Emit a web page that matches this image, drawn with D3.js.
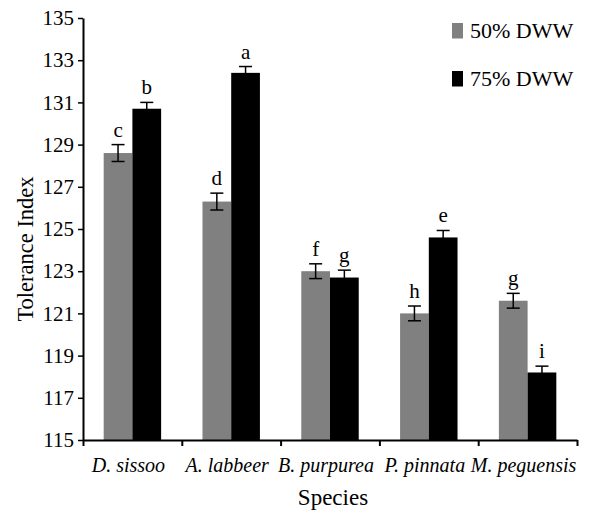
<!DOCTYPE html>
<html>
<head>
<meta charset="utf-8">
<script src="https://cdn.jsdelivr.net/npm/d3@7"></script>
<style>
  body { margin: 0; background: #fff; }
</style>
</head>
<body>
<div id="chart"></div>
<script>
// Tolerance index per species, two wastewater levels
const species = ['D. sissoo', 'A. labbeer', 'B. purpurea', 'P. pinnata', 'M. peguensis'];
const seriesNames = ['50% DWW', '75% DWW'];
const values50 = [128.6, 126.3, 123.0, 121.0, 121.6];
const values75 = [130.7, 132.4, 122.7, 124.6, 118.2];
const err50 = [0.4, 0.4, 0.35, 0.35, 0.35];
const err75 = [0.3, 0.3, 0.35, 0.33, 0.3];
const letters50 = ['c', 'd', 'f', 'h', 'g'];
const letters75 = ['b', 'a', 'g', 'e', 'i'];
const yTicks = [115, 117, 119, 121, 123, 125, 127, 129, 131, 133, 135];

const colors = { '50% DWW': '#808080', '75% DWW': '#000000' };
const serif = 'Liberation Serif';

const W = 591, H = 520;
const margin = { top: 18, right: 14, bottom: 80, left: 83 };
const width = W - margin.left - margin.right;
const height = H - margin.top - margin.bottom;

const svg = d3.select('#chart').append('svg')
  .attr('width', W)
  .attr('height', H)
  .attr('font-family', serif);

const g = svg.append('g')
  .attr('transform', `translate(${margin.left},${margin.top})`);

// rows: one per bar
const rows = [];
species.forEach((s, i) => {
  rows.push({ species: s, series: seriesNames[0], value: values50[i], err: err50[i], letter: letters50[i] });
  rows.push({ species: s, series: seriesNames[1], value: values75[i], err: err75[i], letter: letters75[i] });
});

// Scales
const x = d3.scaleBand().domain(species).range([0, width]).padding(0);
const xSub = d3.scaleBand().domain(seriesNames).range([0, x.bandwidth()])
  .paddingInner(0).paddingOuter(0.72);
const y = d3.scaleLinear().domain([115, 135]).range([height, 0]);

// Bars
g.selectAll('.bar')
  .data(rows)
  .enter().append('rect')
  .attr('class', 'bar')
  .attr('x', d => x(d.species) + xSub(d.series))
  .attr('y', d => y(d.value))
  .attr('width', xSub.bandwidth())
  .attr('height', d => y(115) - y(d.value))
  .style('fill', d => colors[d.series]);

// Error bars
const capW = 6.5;
const eb = g.selectAll('.err')
  .data(rows)
  .enter().append('g')
  .attr('class', 'err')
  .attr('transform', d => `translate(${x(d.species) + xSub(d.series) + xSub.bandwidth() / 2},0)`)
  .style('stroke', '#000')
  .style('stroke-width', 1.5);

eb.append('line')
  .attr('y1', d => y(d.value - d.err))
  .attr('y2', d => y(d.value + d.err));
eb.append('line')
  .attr('x1', -capW).attr('x2', capW)
  .attr('y1', d => y(d.value + d.err))
  .attr('y2', d => y(d.value + d.err));
eb.append('line')
  .attr('x1', -capW).attr('x2', capW)
  .attr('y1', d => y(d.value - d.err))
  .attr('y2', d => y(d.value - d.err));

// Significance letters
g.selectAll('.letter')
  .data(rows)
  .enter().append('text')
  .attr('class', 'letter')
  .attr('x', d => x(d.species) + xSub(d.series) + xSub.bandwidth() / 2)
  .attr('y', d => y(d.value + d.err) - 8)
  .attr('text-anchor', 'middle')
  .attr('font-family', serif)
  .attr('font-size', 21)
  .text(d => d.letter);

// Y axis
const yAxis = d3.axisLeft(y)
  .tickValues(yTicks)
  .tickFormat(d3.format('d'))
  .tickSize(5)
  .tickSizeOuter(0)
  .tickPadding(4);

const yAxisGroup = g.append('g').call(yAxis)
  .attr('font-family', serif)
  .attr('font-size', 21);
yAxisGroup.select('.domain').style('stroke-width', 2);
yAxisGroup.selectAll('.tick line').style('stroke-width', 1.5);

// X axis: boundary ticks
const xEdges = d3.scaleLinear().domain([0, species.length]).range([0, width]);
const xTickAxis = d3.axisBottom(xEdges)
  .tickValues(d3.range(0, species.length + 1))
  .tickFormat('')
  .tickSize(6)
  .tickSizeOuter(0);
const xTickGroup = g.append('g')
  .attr('transform', `translate(0,${height})`)
  .call(xTickAxis);
xTickGroup.select('.domain').style('stroke-width', 2);
xTickGroup.selectAll('.tick line').style('stroke-width', 2);

// X axis: species labels
const xAxis = d3.axisBottom(x).tickSize(0).tickPadding(0);
const xAxisGroup = g.append('g')
  .attr('transform', `translate(0,${height})`)
  .call(xAxis)
  .attr('font-family', serif)
  .attr('font-size', 20);
xAxisGroup.select('.domain').remove();
xAxisGroup.selectAll('.tick text')
  .attr('dy', null)
  .attr('y', 32)
  .attr('dx', -4)
  .attr('font-style', 'italic');

// Axis titles
svg.append('text')
  .attr('transform', `translate(33,249) rotate(-90)`)
  .attr('text-anchor', 'middle')
  .attr('font-family', serif)
  .attr('font-size', 22.5)
  .text('Tolerance Index');

svg.append('text')
  .attr('x', margin.left + width / 2 + 3)
  .attr('y', 505)
  .attr('text-anchor', 'middle')
  .attr('font-family', serif)
  .attr('font-size', 23)
  .text('Species');

// Legend
const legend = svg.append('g')
  .attr('transform', 'translate(452,23)');
const li = legend.selectAll('.legend-item')
  .data(seriesNames)
  .enter().append('g')
  .attr('class', 'legend-item')
  .attr('transform', (d, i) => `translate(0,${i * 48})`);
li.append('rect')
  .attr('width', 11)
  .attr('height', 15.5)
  .style('fill', d => colors[d]);
li.append('text')
  .attr('x', 18)
  .attr('y', 15)
  .attr('font-family', serif)
  .attr('font-size', 22)
  .text(d => d);
</script>
</body>
</html>
